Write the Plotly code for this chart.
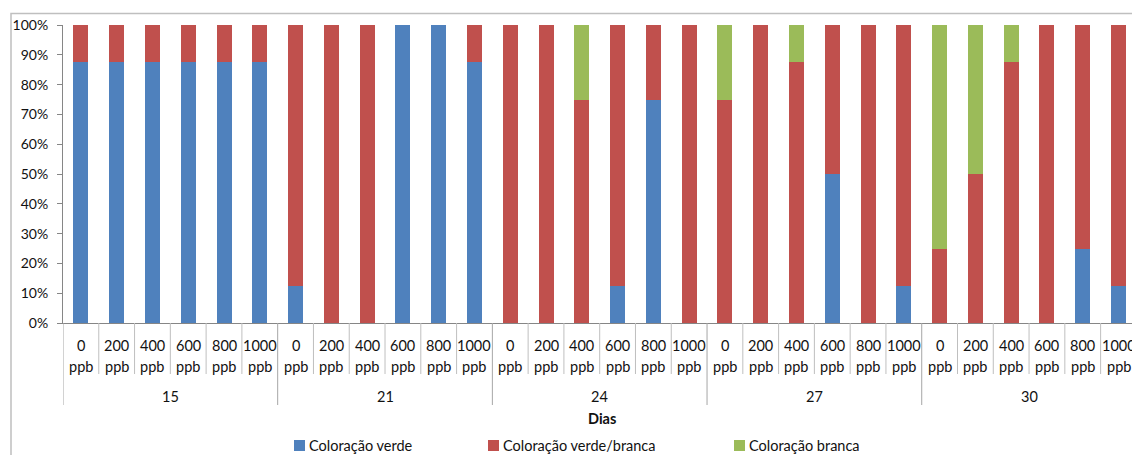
import plotly.graph_objects as go

# Days after treatment and ethylene doses (two-level category axis)
dias = ["15", "21", "24", "27", "30"]
doses = ["0 ppb", "200 ppb", "400 ppb", "600 ppb", "800 ppb", "1000 ppb"]

# Percentage of fruits in each colour class, per day x dose
coloracao_verde = [87.5, 87.5, 87.5, 87.5, 87.5, 87.5,
                   12.5, 0, 0, 100, 100, 87.5,
                   0, 0, 0, 12.5, 75, 0,
                   0, 0, 0, 50, 0, 12.5,
                   0, 0, 0, 0, 25, 12.5]
coloracao_verde_branca = [12.5, 12.5, 12.5, 12.5, 12.5, 12.5,
                          87.5, 100, 100, 0, 0, 12.5,
                          100, 100, 75, 87.5, 25, 100,
                          75, 100, 87.5, 50, 100, 87.5,
                          25, 50, 87.5, 100, 75, 87.5]
coloracao_branca = [0, 0, 0, 0, 0, 0,
                    0, 0, 0, 0, 0, 0,
                    0, 0, 25, 0, 0, 0,
                    25, 0, 12.5, 0, 0, 0,
                    75, 50, 12.5, 0, 0, 0]

series = [
    ("Coloração verde", coloracao_verde, "#4F81BD"),
    ("Coloração verde/branca", coloracao_verde_branca, "#C0504D"),
    ("Coloração branca", coloracao_branca, "#9BBB59"),
]

n_dose = len(doses)
n_cat = len(dias) * n_dose
xpos = list(range(n_cat))

FONT = "Lato"
FS = 14.5
TXT = "#111111"
AXIS = "#868686"

W, H = 1132, 455
ML, MT, MB = 63, 25, 132
PLOT_H = H - MT - MB
UNIT = 35.78  # pixel width of one category


def py(px):
    """Pixel row -> paper y."""
    return (H - MB - px) / PLOT_H


def pxx(px):
    """Pixel column -> paper x."""
    return (px - ML) / (W - ML)


fig = go.Figure()
for name, vals, color in series:
    fig.add_trace(go.Bar(
        x=xpos, y=vals, name=name, marker_color=color,
        marker_line_width=0, showlegend=False,
    ))

annotations = []
shapes = []

# Inner (dose) labels and dividers
for i in range(n_cat):
    num, unit = doses[i % n_dose].split(" ")
    annotations.append(dict(x=i, y=py(345), xref="x", yref="paper", text=num,
                            showarrow=False, yanchor="middle",
                            font=dict(family=FONT, size=FS, color=TXT)))
    annotations.append(dict(x=i, y=py(366), xref="x", yref="paper", text=unit,
                            showarrow=False, yanchor="middle",
                            font=dict(family=FONT, size=FS, color=TXT)))

for b in range(n_cat + 1):
    outer = b % n_dose == 0
    shapes.append(dict(type="line", xref="x", yref="paper",
                       x0=b - 0.5, x1=b - 0.5, y0=0, y1=py(405 if outer else 374),
                       line=dict(color="#BFBFBF" if not outer else "#A6A6A6", width=1)))

# Outer (day) labels
for g, d in enumerate(dias):
    annotations.append(dict(x=g * n_dose + (n_dose - 1) / 2, y=py(396), xref="x",
                            yref="paper", text=d, showarrow=False, yanchor="middle",
                            font=dict(family=FONT, size=FS, color=TXT)))

# Axis title
annotations.append(dict(x=pxx(602), y=py(418), xref="paper", yref="paper",
                        text="<b>Dias</b>", showarrow=False, yanchor="middle",
                        font=dict(family=FONT, size=FS, color=TXT)))

# Legend
legend_x = [294, 488, 734]
for (name, vals, color), lx in zip(series, legend_x):
    shapes.append(dict(type="rect", xref="paper", yref="paper",
                       x0=pxx(lx), x1=pxx(lx + 11), y0=py(451), y1=py(440),
                       fillcolor=color, line_width=0))
    annotations.append(dict(x=pxx(lx + 13), y=py(445.5), xref="paper", yref="paper",
                            text=name, showarrow=False, xanchor="left", yanchor="middle",
                            font=dict(family=FONT, size=FS, color=TXT)))

# Chart frame
shapes.append(dict(type="rect", xref="paper", yref="paper",
                   x0=pxx(11), x1=pxx(1200), y0=py(600), y1=py(13.5),
                   line=dict(color="#BFBFBF", width=1.5), fillcolor="rgba(0,0,0,0)",
                   layer="below"))

fig.update_layout(
    width=W, height=H,
    margin=dict(l=ML, r=0, t=MT, b=MB, pad=0),
    barmode="stack",
    bargap=0.58,
    paper_bgcolor="white",
    plot_bgcolor="white",
    showlegend=False,
    font=dict(family=FONT, size=FS, color=TXT),
    xaxis=dict(range=[-0.5, -0.5 + (W - ML) / UNIT], showticklabels=False,
               showgrid=False, zeroline=False, showline=True, linecolor=AXIS,
               linewidth=1, ticks=""),
    yaxis=dict(range=[0, 100], dtick=10, ticksuffix="%", showgrid=False,
               zeroline=False, showline=True, linecolor=AXIS, linewidth=1,
               ticks="outside", ticklen=5, tickcolor=AXIS,
               ticklabelstandoff=6,
               tickfont=dict(family=FONT, size=14, color=TXT)),
    annotations=annotations,
    shapes=shapes,
)

fig.write_html("out.html")
